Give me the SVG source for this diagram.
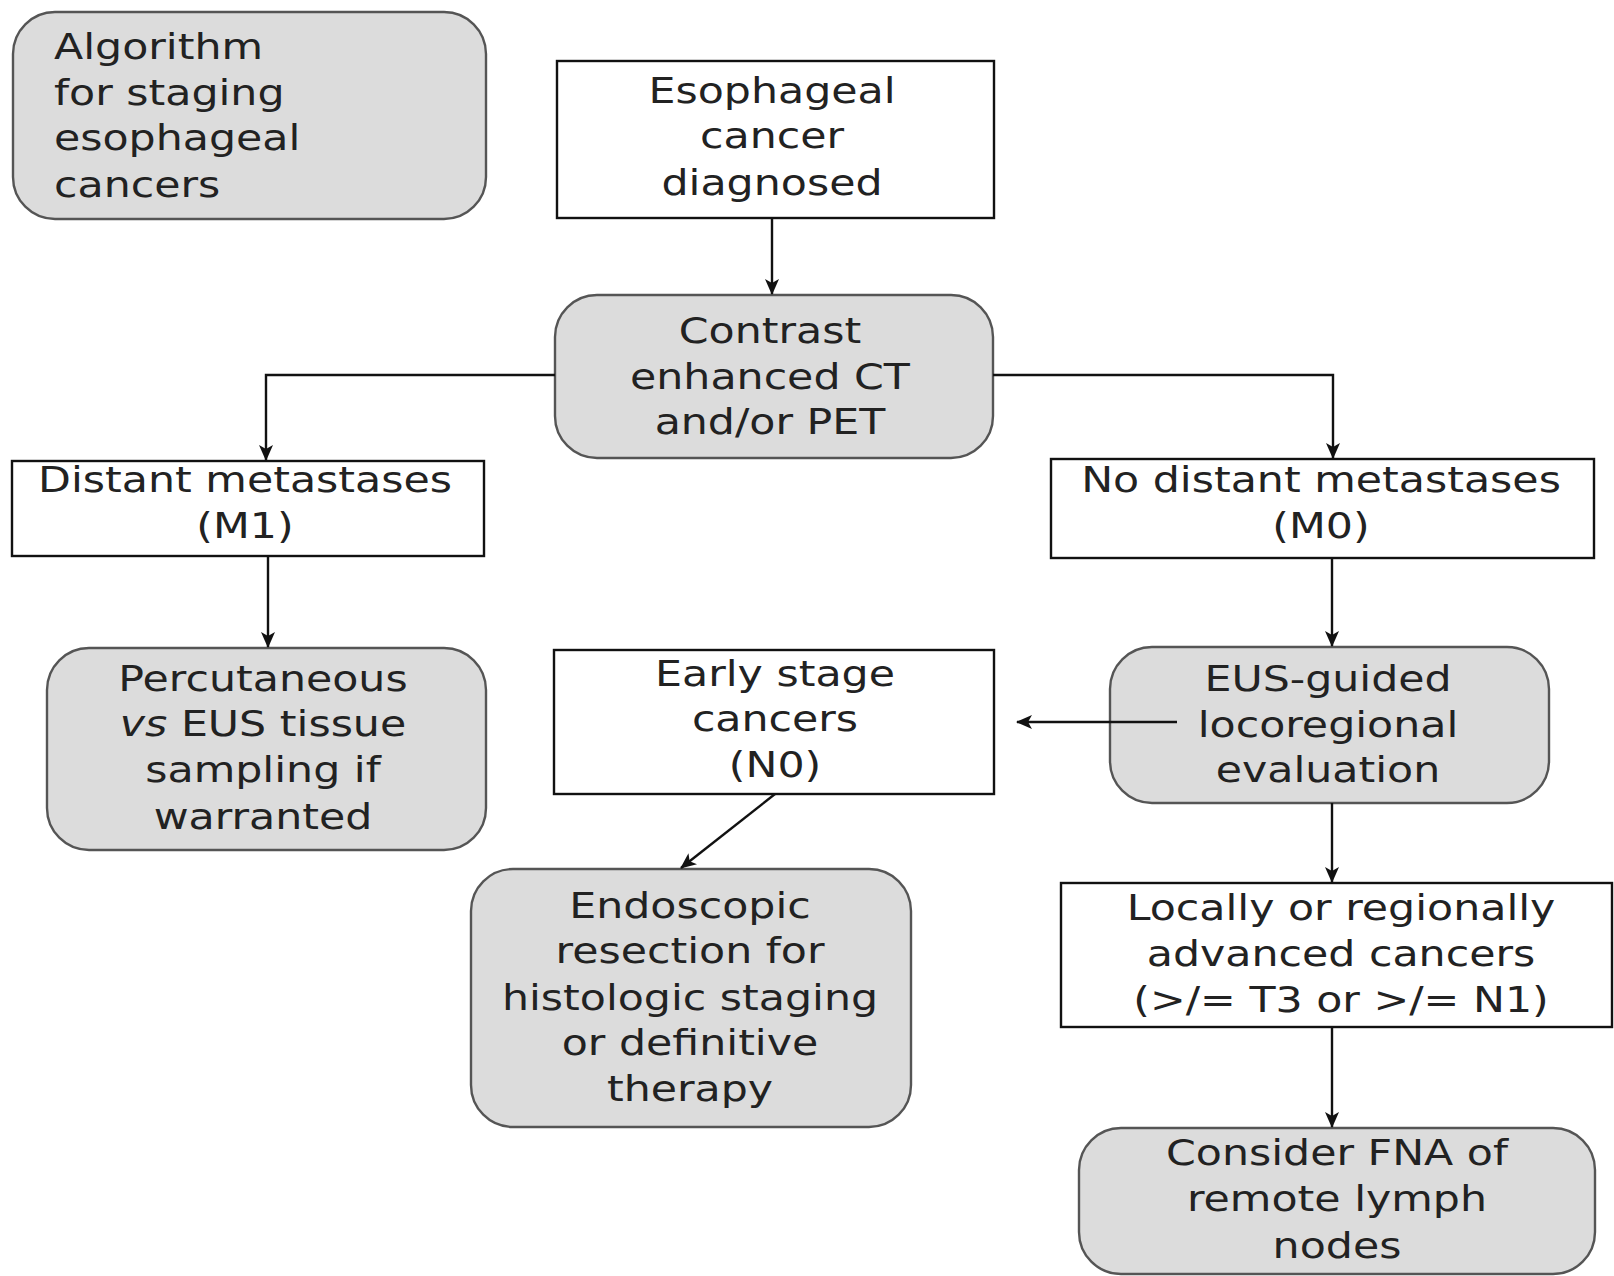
<svg xmlns="http://www.w3.org/2000/svg" width="1614" height="1276" viewBox="0 0 1614 1276">
<style>
.t{font-family:"DejaVu Sans",Verdana,sans-serif;font-size:35px;fill:#222;text-anchor:middle}
.l{text-anchor:start}
.box{fill:#fff;stroke:#111;stroke-width:2.4}
.rbox{fill:#dcdcdc;stroke:#555;stroke-width:2.4}
.c{fill:none;stroke:#111;stroke-width:2.4}
</style>
<defs>
<marker id="ah" viewBox="0 0 16 14" refX="15" refY="7" markerWidth="16" markerHeight="14" markerUnits="userSpaceOnUse" orient="auto">
<path d="M0,0 L16,7 L0,14 L4,7 z" fill="#111"/>
</marker>
</defs>
<rect width="1614" height="1276" fill="#fff"/>
<g id="n-title">
<rect class="rbox" x="13" y="12" width="473" height="207" rx="42"/>
<text class="t l" transform="translate(54 0) scale(1.22 1)" x="0" y="59">Algorithm</text>
<text class="t l" transform="translate(54 0) scale(1.22 1)" x="0" y="105">for staging</text>
<text class="t l" transform="translate(54 0) scale(1.22 1)" x="0" y="150">esophageal</text>
<text class="t l" transform="translate(54 0) scale(1.22 1)" x="0" y="197">cancers</text>
</g>
<g id="n-diagnosed">
<rect class="box" x="557" y="61" width="437" height="157"/>
<text class="t" transform="translate(772 0) scale(1.22 1)" x="0" y="103">Esophageal</text>
<text class="t" transform="translate(772 0) scale(1.22 1)" x="0" y="148">cancer</text>
<text class="t" transform="translate(772 0) scale(1.22 1)" x="0" y="195">diagnosed</text>
</g>
<g id="n-ct">
<rect class="rbox" x="555" y="295" width="438" height="163" rx="42"/>
<text class="t" transform="translate(770 0) scale(1.22 1)" x="0" y="343">Contrast</text>
<text class="t" transform="translate(770 0) scale(1.22 1)" x="0" y="389">enhanced CT</text>
<text class="t" transform="translate(770 0) scale(1.22 1)" x="0" y="434">and/or PET</text>
</g>
<g id="n-m1">
<rect class="box" x="12" y="461" width="472" height="95"/>
<text class="t" transform="translate(245 0) scale(1.22 1)" x="0" y="492">Distant metastases</text>
<text class="t" transform="translate(245 0) scale(1.22 1)" x="0" y="538">(M1)</text>
</g>
<g id="n-m0">
<rect class="box" x="1051" y="459" width="543" height="99"/>
<text class="t" transform="translate(1321 0) scale(1.22 1)" x="0" y="492">No distant metastases</text>
<text class="t" transform="translate(1321 0) scale(1.22 1)" x="0" y="538">(M0)</text>
</g>
<g id="n-percutaneous">
<rect class="rbox" x="47" y="648" width="439" height="202" rx="42"/>
<text class="t" transform="translate(263 0) scale(1.22 1)" x="0" y="691">Percutaneous</text>
<text class="t" transform="translate(263 0) scale(1.22 1)" x="0" y="736"><tspan font-style="italic">vs</tspan> EUS tissue</text>
<text class="t" transform="translate(263 0) scale(1.22 1)" x="0" y="782">sampling if</text>
<text class="t" transform="translate(263 0) scale(1.22 1)" x="0" y="829">warranted</text>
</g>
<g id="n-early">
<rect class="box" x="554" y="650" width="440" height="144"/>
<text class="t" transform="translate(775 0) scale(1.22 1)" x="0" y="686">Early stage</text>
<text class="t" transform="translate(775 0) scale(1.22 1)" x="0" y="731">cancers</text>
<text class="t" transform="translate(775 0) scale(1.22 1)" x="0" y="777">(N0)</text>
</g>
<g id="n-eus">
<rect class="rbox" x="1110" y="647" width="439" height="156" rx="42"/>
<text class="t" transform="translate(1328 0) scale(1.22 1)" x="0" y="691">EUS-guided</text>
<text class="t" transform="translate(1328 0) scale(1.22 1)" x="0" y="737">locoregional</text>
<text class="t" transform="translate(1328 0) scale(1.22 1)" x="0" y="782">evaluation</text>
</g>
<g id="n-endoscopic">
<rect class="rbox" x="471" y="869" width="440" height="258" rx="42"/>
<text class="t" transform="translate(690 0) scale(1.22 1)" x="0" y="918">Endoscopic</text>
<text class="t" transform="translate(690 0) scale(1.22 1)" x="0" y="963">resection for</text>
<text class="t" transform="translate(690 0) scale(1.22 1)" x="0" y="1010">histologic staging</text>
<text class="t" transform="translate(690 0) scale(1.22 1)" x="0" y="1055">or definitive</text>
<text class="t" transform="translate(690 0) scale(1.22 1)" x="0" y="1101">therapy</text>
</g>
<g id="n-advanced">
<rect class="box" x="1061" y="883" width="551" height="144"/>
<text class="t" transform="translate(1341 0) scale(1.22 1)" x="0" y="920">Locally or regionally</text>
<text class="t" transform="translate(1341 0) scale(1.22 1)" x="0" y="966">advanced cancers</text>
<text class="t" transform="translate(1341 0) scale(1.22 1)" x="0" y="1012">(&gt;/= T3 or &gt;/= N1)</text>
</g>
<g id="n-fna">
<rect class="rbox" x="1079" y="1128" width="516" height="146" rx="42"/>
<text class="t" transform="translate(1337 0) scale(1.22 1)" x="0" y="1165">Consider FNA of</text>
<text class="t" transform="translate(1337 0) scale(1.22 1)" x="0" y="1211">remote lymph</text>
<text class="t" transform="translate(1337 0) scale(1.22 1)" x="0" y="1258">nodes</text>
</g>
<g id="connectors">
<line class="c" x1="772" y1="218" x2="772" y2="294" marker-end="url(#ah)"/>
<polyline class="c" points="555,375 266,375 266,460" marker-end="url(#ah)"/>
<polyline class="c" points="993,375 1333,375 1333,458" marker-end="url(#ah)"/>
<line class="c" x1="268" y1="556" x2="268" y2="647" marker-end="url(#ah)"/>
<line class="c" x1="1332" y1="558" x2="1332" y2="646" marker-end="url(#ah)"/>
<line class="c" x1="1177" y1="722" x2="1017" y2="722" marker-end="url(#ah)"/>
<line class="c" x1="1332" y1="803" x2="1332" y2="882" marker-end="url(#ah)"/>
<line class="c" x1="775" y1="794" x2="681" y2="868" marker-end="url(#ah)"/>
<line class="c" x1="1332" y1="1027" x2="1332" y2="1127" marker-end="url(#ah)"/>
</g>
</svg>
